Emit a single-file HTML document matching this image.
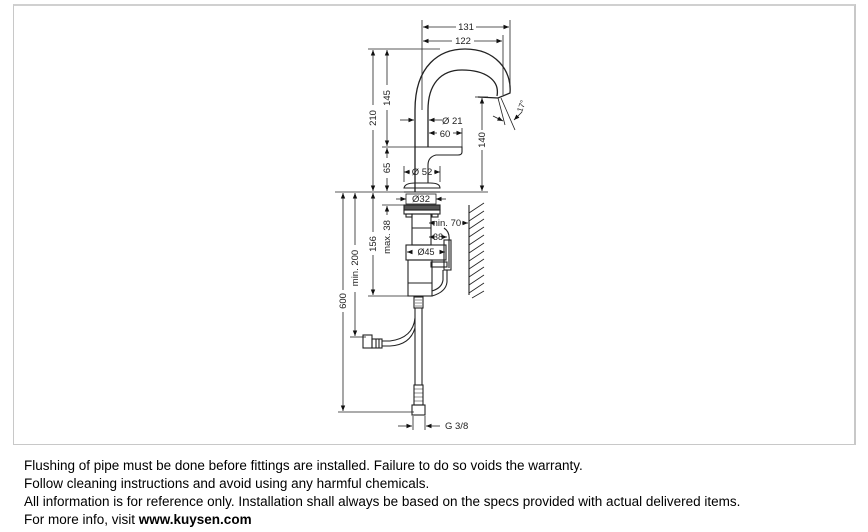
<!DOCTYPE html>
<html><head><meta charset="utf-8"><style>
html,body{margin:0;padding:0;background:#fff;width:868px;height:532px;overflow:hidden;}
#frame{position:absolute;left:13px;top:4px;width:840px;height:438px;border:1px solid #c8c8c8;border-top:2px solid #d0d0d0;border-right:2px solid #c8c8c8;}
#txt{position:absolute;left:24px;top:457px;font-family:"Liberation Sans",sans-serif;font-size:13.5px;line-height:18px;color:#000;}
svg{position:absolute;left:0;top:0;}
</style></head><body>
<div id="frame"></div>
<svg width="868" height="445" viewBox="0 0 868 445" font-family="Liberation Sans, sans-serif" font-size="9" fill="none" stroke="#222" stroke-width="1.1">
<defs>
<marker id="a" viewBox="0 0 10 10" refX="10" refY="5" markerWidth="7" markerHeight="7" orient="auto-start-reverse"><path d="M0,1 L10,5 L0,9z" fill="#111" stroke="none"/></marker>
</defs>
<g stroke-width="0.8">
<line x1="422" y1="20" x2="422" y2="110"/>
<line x1="510" y1="20" x2="510" y2="93"/>
<line x1="503" y1="35" x2="503" y2="95"/>
<line x1="423" y1="27" x2="456" y2="27" marker-start="url(#a)"/><line x1="476" y1="27" x2="509" y2="27" marker-end="url(#a)"/>
<line x1="423" y1="41" x2="452" y2="41" marker-start="url(#a)"/><line x1="474" y1="41" x2="502" y2="41" marker-end="url(#a)"/>
<line x1="368" y1="49" x2="440" y2="49"/>
<line x1="382" y1="147" x2="416" y2="147"/>
<line x1="335" y1="192" x2="488" y2="192"/>
<line x1="475" y1="97" x2="488" y2="97"/>
<line x1="373" y1="50" x2="373" y2="105" marker-start="url(#a)"/><line x1="373" y1="130" x2="373" y2="191" marker-end="url(#a)"/>
<line x1="387" y1="50" x2="387" y2="85" marker-start="url(#a)"/><line x1="387" y1="110" x2="387" y2="146" marker-end="url(#a)"/>
<line x1="387" y1="148" x2="387" y2="158" marker-start="url(#a)"/><line x1="387" y1="178" x2="387" y2="191" marker-end="url(#a)"/>
<line x1="482" y1="98" x2="482" y2="130" marker-start="url(#a)"/><line x1="482" y1="150" x2="482" y2="191" marker-end="url(#a)"/>
<line x1="343" y1="193" x2="343" y2="290" marker-start="url(#a)"/><line x1="343" y1="312" x2="343" y2="411" marker-end="url(#a)"/>
<line x1="355" y1="193" x2="355" y2="245" marker-start="url(#a)"/><line x1="355" y1="292" x2="355" y2="336" marker-end="url(#a)"/>
<line x1="373" y1="193" x2="373" y2="232" marker-start="url(#a)"/><line x1="373" y1="255" x2="373" y2="295" marker-end="url(#a)"/>
<line x1="387" y1="206" x2="387" y2="215" marker-start="url(#a)"/>
<line x1="382" y1="205" x2="404" y2="205"/>
<line x1="368" y1="296" x2="410" y2="296"/>
<line x1="350" y1="337" x2="366" y2="337"/>
<line x1="338" y1="412" x2="414" y2="412"/>
<line x1="400" y1="120" x2="414" y2="120" marker-end="url(#a)"/><line x1="442" y1="120" x2="429" y2="120" marker-end="url(#a)"/>
<line x1="429" y1="133" x2="437" y2="133" marker-start="url(#a)"/><line x1="453" y1="133" x2="462" y2="133" marker-end="url(#a)"/>
<line x1="462" y1="128" x2="462" y2="147"/>
<line x1="404" y1="172" x2="410" y2="172" marker-start="url(#a)"/><line x1="434" y1="172" x2="440" y2="172" marker-end="url(#a)"/>
<line x1="404" y1="166" x2="404" y2="182"/><line x1="440" y1="166" x2="440" y2="182"/>
<line x1="396" y1="199" x2="406" y2="199" marker-end="url(#a)"/><line x1="446" y1="199" x2="436" y2="199" marker-end="url(#a)"/>
<rect x="406" y="194" width="30" height="10"/>
<line x1="429" y1="223" x2="435" y2="223" marker-start="url(#a)"/><line x1="462" y1="223" x2="468" y2="223" marker-end="url(#a)"/>
<line x1="429" y1="237" x2="434" y2="237" marker-start="url(#a)"/><line x1="443" y1="237" x2="447" y2="237" marker-end="url(#a)"/>
<line x1="407" y1="252" x2="412" y2="252" marker-start="url(#a)"/><line x1="440" y1="252" x2="445" y2="252" marker-end="url(#a)"/>
<line x1="398" y1="426" x2="412" y2="426" marker-end="url(#a)"/><line x1="440" y1="426" x2="426" y2="426" marker-end="url(#a)"/>
<line x1="413" y1="416" x2="413" y2="430"/><line x1="425" y1="416" x2="425" y2="430"/>
<line x1="501" y1="98" x2="515" y2="130"/><line x1="498" y1="98" x2="505" y2="125"/>
<line x1="493" y1="116" x2="503" y2="121" marker-end="url(#a)"/><line x1="522" y1="112" x2="514" y2="120" marker-end="url(#a)"/>
</g>
<path d="M415,192 L415,110 C415,65 440,49 465,49 C495,49 512,70 510,93 L498,98 L478,97" stroke-width="1.3"/>
<path d="M428,147 L428,110 C428,85 440,70 462,70 C485,70 500,80 497,96" stroke-width="1.3"/>
<path d="M415,147 L462,147 L462,152 Q462,155 458,155 L436,155 Q428,157 428,165 L428,183"/>
<path d="M404,188 Q405,183 415,183 L430,183 Q440,183 440,188 L404,188 Z"/>
<line x1="404" y1="192" x2="440" y2="192"/>
<rect x="404" y="205" width="36" height="5" fill="#555"/>
<rect x="404" y="210" width="36" height="4"/>
<rect x="406" y="214" width="6" height="3"/><rect x="432" y="214" width="6" height="3"/>
<rect x="412" y="214" width="19" height="31"/>
<line x1="412" y1="228" x2="431" y2="228"/>
<rect x="406" y="245" width="40" height="15"/>
<rect x="408" y="260" width="24" height="36"/>
<line x1="408" y1="283" x2="432" y2="283"/>
<rect x="431" y="262" width="16" height="5"/>
<path d="M444,228 Q450,232 449,240 L449,268"/>
<rect x="444" y="240" width="7" height="30"/>
<path d="M447,270 L447,282 Q446,292 432,296"/><path d="M443,270 L443,280 Q442,288 432,291"/>
<line x1="469" y1="205" x2="469" y2="295"/>
<g stroke-width="0.8"><path d="M469,213 L484,203 M469,221 L484,211 M469,229 L484,219 M469,237 L484,227 M469,245 L484,235 M469,253 L484,243 M469,261 L484,251 M469,269 L484,259 M469,277 L484,267 M469,285 L484,275 M469,293 L484,283 M472,298 L484,291"/></g>
<line x1="415" y1="308" x2="415" y2="385"/><line x1="422" y1="308" x2="422" y2="385"/>
<rect x="414" y="297" width="9" height="11"/>
<path d="M415,300 L422,300 M415,303 L422,303 M415,306 L422,306" stroke-width="0.6"/>
<rect x="414" y="385" width="9" height="20"/>
<path d="M414,389 L423,389 M414,393 L423,393 M414,397 L423,397 M414,401 L423,401" stroke-width="0.6"/>
<rect x="412" y="405" width="13" height="10"/>
<path d="M415,318 Q413,338 390,341 L382,341"/><path d="M415,328 Q410,345 390,346 L382,346"/>
<rect x="372" y="339" width="10" height="9"/>
<rect x="363" y="335" width="9" height="13"/>
<line x1="376" y1="339" x2="376" y2="348"/><line x1="379" y1="339" x2="379" y2="348"/>
<g fill="#222" stroke="none" font-size="9.5">
<text x="466" y="30" text-anchor="middle">131</text>
<text x="463" y="44" text-anchor="middle">122</text>
<text x="442" y="124">Ø 21</text>
<text x="445" y="137" text-anchor="middle">60</text>
<text x="422" y="175" text-anchor="middle">Ø 52</text>
<text x="421" y="202" text-anchor="middle">Ø32</text>
<text x="430" y="226">min. 70</text>
<text x="438" y="240" text-anchor="middle" font-size="9">38</text>
<text x="426" y="255" text-anchor="middle" font-size="9">Ø45</text>
<text x="445" y="429">G 3/8</text>
<text transform="translate(376,118) rotate(-90)" text-anchor="middle">210</text>
<text transform="translate(390,98) rotate(-90)" text-anchor="middle">145</text>
<text transform="translate(390,168) rotate(-90)" text-anchor="middle">65</text>
<text transform="translate(485,140) rotate(-90)" text-anchor="middle">140</text>
<text transform="translate(346,301) rotate(-90)" text-anchor="middle">600</text>
<text transform="translate(358,268) rotate(-90)" text-anchor="middle">min. 200</text>
<text transform="translate(376,244) rotate(-90)" text-anchor="middle">156</text>
<text transform="translate(390,237) rotate(-90)" text-anchor="middle">max. 38</text>
<text transform="translate(524,107) rotate(-70)" text-anchor="middle" font-size="8">17°</text>
</g>
</svg>
<div id="txt">Flushing of pipe must be done before fittings are installed. Failure to do so voids the warranty.<br>Follow cleaning instructions and avoid using any harmful chemicals.<br>All information is for reference only. Installation shall always be based on the specs provided with actual delivered items.<br>For more info, visit <b>www.kuysen.com</b></div>
</body></html>
